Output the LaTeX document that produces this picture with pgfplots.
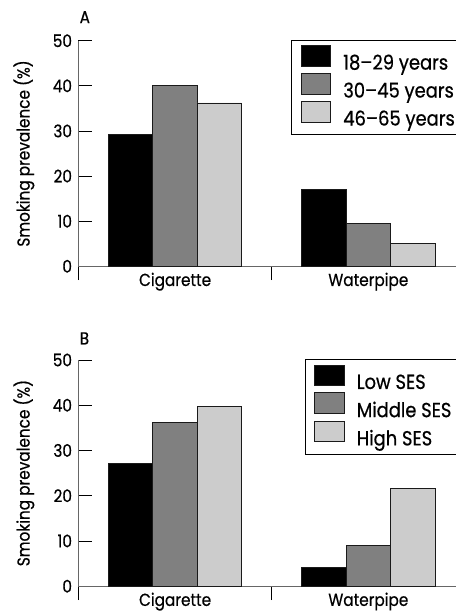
\documentclass[border=0pt]{standalone}
\usepackage{fontspec}
\setmainfont{Poppins}[FakeStretch=0.88, FakeBold=0.6]
\usepackage{pgfplots}
\pgfplotsset{compat=1.18}
\definecolor{midgray}{HTML}{808080}
\definecolor{lightgray}{HTML}{CCCCCC}
\definecolor{axisgray}{HTML}{666666}
\definecolor{edge}{HTML}{1A1A1A}
\pgfplotsset{
  panel/.style={
    scale only axis, width=389pt, height=227pt,
    anchor=south west,
    xmin=-0.5, xmax=1.5, ymin=0, ymax=50,
    axis lines*=left,
    axis line style={-, draw=axisgray, line width=0.8pt},
    xtick pos=bottom, ytick pos=left,
    tick align=inside, xtick align=inside, ytick align=inside,
    major tick length=14pt,
    tick style={draw=black, line width=0.8pt},
    ytick={0,10,...,50},
    xtick={-0.5,0.5,1.5}, xticklabels={},
    extra x ticks={0,1},
    extra x tick labels={Cigarette,Waterpipe},
    extra x tick style={major tick length=0pt},
    font=\fontsize{17.5}{20}\selectfont,
    /pgf/number format/assume math mode=true,
    yticklabel style={xshift=-3pt},
    xticklabel style={yshift=-3pt},
    ylabel={Smoking prevalence (\%)},
    ylabel style={at={(axis description cs:-0.1414,0.5)}, anchor=center},
    ybar=0pt, bar width=0.2298,
    legend cell align=left,
    legend image code/.code={\draw[##1] (0pt,-3.2pt) rectangle (30pt,17.4pt);},
    legend style={draw=black, line width=0.6pt, inner xsep=9pt, inner ysep=5pt,
      row sep=0pt, column sep=10pt, font=\fontsize{20.5}{24}\selectfont},
    title style={at={(axis description cs:0,1)}, anchor=base west, inner sep=0pt, xshift=1pt},
  },
  b1/.style={fill=black, draw=edge, line width=0.9pt, bar shift=-0.2298},
  b2/.style={fill=midgray, draw=edge, line width=0.9pt, bar shift=0},
  b3/.style={fill=lightgray, draw=edge, line width=0.9pt, bar shift=0.2298},
}
\begin{document}
\begin{tikzpicture}
\useasboundingbox (0,-4pt) rectangle (458pt,613pt);
\begin{axis}[panel, at={(79pt,345pt)},
  title={A}, title style={yshift=11.7pt},
  legend style={at={(0.551,1.004)}, anchor=north west}]
\addplot[b1] coordinates {(0,29.3) (1,17.0)};
\addplot[b2] coordinates {(0,40.0) (1,9.4)};
\addplot[b3] coordinates {(0,36.2) (1,5.1)};
\legend{18–29 years,30–45 years,46–65 years}
\end{axis}
\begin{axis}[panel, at={(79pt,23pt)}, height=227.7pt,
  title={B}, title style={yshift=9.6pt},
  legend style={at={(0.586,1.002)}, anchor=north west}]
\addplot[b1] coordinates {(0,27.1) (1,4.2)};
\addplot[b2] coordinates {(0,36.1) (1,8.9)};
\addplot[b3] coordinates {(0,39.8) (1,21.5)};
\legend{Low SES,Middle SES,High SES}
\end{axis}
\end{tikzpicture}
\end{document}
